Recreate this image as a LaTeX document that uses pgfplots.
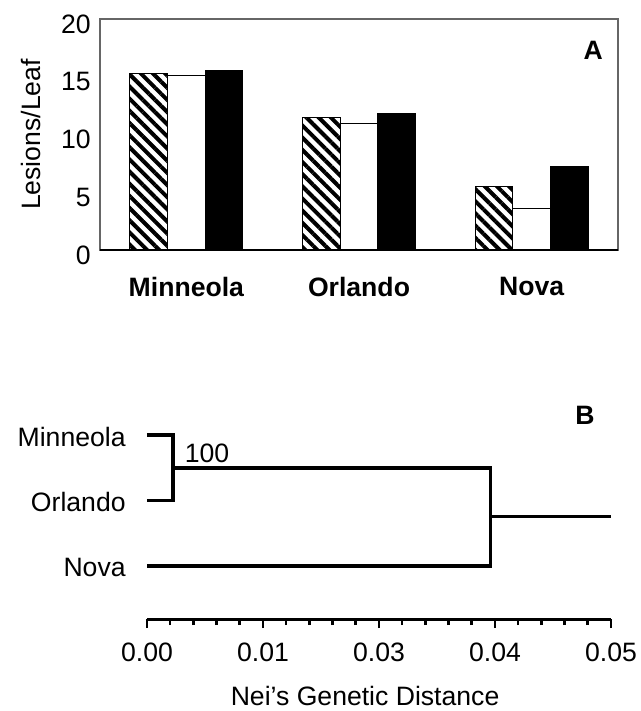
\documentclass[border=0pt]{standalone}
\usepackage{pgfplots}
\pgfplotsset{compat=1.18}
\usepackage{fontspec}
\setmainfont{Liberation Sans}
\usetikzlibrary{patterns.meta}
\newcommand{\fs}{\fontsize{13.3}{15}\selectfont}
\begin{document}
\fs
\begin{tikzpicture}
\useasboundingbox (0,0) rectangle (320.5pt,-355.5pt);
% Panel A
\begin{axis}[
  at={(50pt,-125pt)}, anchor=south west,
  scale only axis, width=259pt, height=115.5pt,
  xmin=-0.5, xmax=2.5, ymin=0, ymax=20,
  ybar=0pt, bar width=18.8pt,
  xtick={0,1,2}, xticklabels={Minneola,Orlando,Nova},
  ytick={0,5,10,15,20},
  major tick length=0pt,
  xticklabel style={font=\fs\bfseries, yshift=-9pt},
  yticklabel style={font=\fs, yshift=-2.5pt},
  /pgf/number format/assume math mode=true,
  ylabel={Lesions/Leaf},
  ylabel style={font=\fs, at={(axis description cs:-0.133,0.5)}, anchor=center},
  axis line style={draw=black!60, line width=0.6pt},
  clip=false,
]
\addplot[draw=black, line width=0.5pt, pattern={Lines[angle=-45,distance=4.3pt,line width=2pt]}] coordinates {(0,15.25) (1,11.45) (2,5.47)};
\addplot[draw=black, line width=0.5pt, fill=white] coordinates {(0,15.14) (1,10.99) (2,3.63)};
\addplot[draw=black, line width=0.5pt, fill=black] coordinates {(0,15.54) (1,11.83) (2,7.25)};
\draw[black, line width=1pt] (axis cs:-0.5,0) -- (axis cs:2.5,0);
\node[font=\fs\bfseries] at (rel axis cs:0.952,0.866) {A};
\end{axis}
% Panel B
\begin{axis}[
  at={(73.5pt,-309.5pt)}, anchor=south west,
  scale only axis, width=232pt, height=101.85pt,
  xmin=0, xmax=0.05, ymin=0.19, ymax=3.3,
  axis x line=bottom, axis y line=none,
  x axis line style={-, line width=1.5pt},
  scaled x ticks=false,
  xtick={0,0.0125,0.025,0.0375,0.05},
  xticklabels={0.00,0.01,0.03,0.04,0.05},
  minor x tick num=4,
  tick align=outside,
  major tick length=4.5pt, minor tick length=3pt,
  every tick/.style={black, line width=1.3pt},
  xticklabel style={font=\fs, yshift=-3pt},
  xlabel={Nei’s Genetic Distance},
  xlabel style={font=\fs, at={(axis description cs:0.47,-0.38)}, anchor=center},
  clip=false,
]
\addplot[black, line width=1.8pt] coordinates {(0,3) (0.0028,3) (0.0028,2) (0,2)};
\addplot[black, line width=1.8pt] coordinates {(0.0028,2.5) (0.037,2.5) (0.037,1) (0,1)};
\addplot[black, line width=1.5pt] coordinates {(0.037,1.75) (0.05,1.75)};
\node[anchor=east, inner sep=0pt, yshift=-1pt, font=\fs] at (axis cs:-0.00226,3) {Minneola};
\node[anchor=east, inner sep=0pt, yshift=-1pt, font=\fs] at (axis cs:-0.00226,2) {Orlando};
\node[anchor=east, inner sep=0pt, yshift=-1pt, font=\fs] at (axis cs:-0.00226,1) {Nova};
\node[font=\fs] at (axis cs:0.00647,2.725) {100};
\node[font=\fs\bfseries] at (axis cs:0.0472,3.305) {B};
\end{axis}
\end{tikzpicture}
\end{document}
